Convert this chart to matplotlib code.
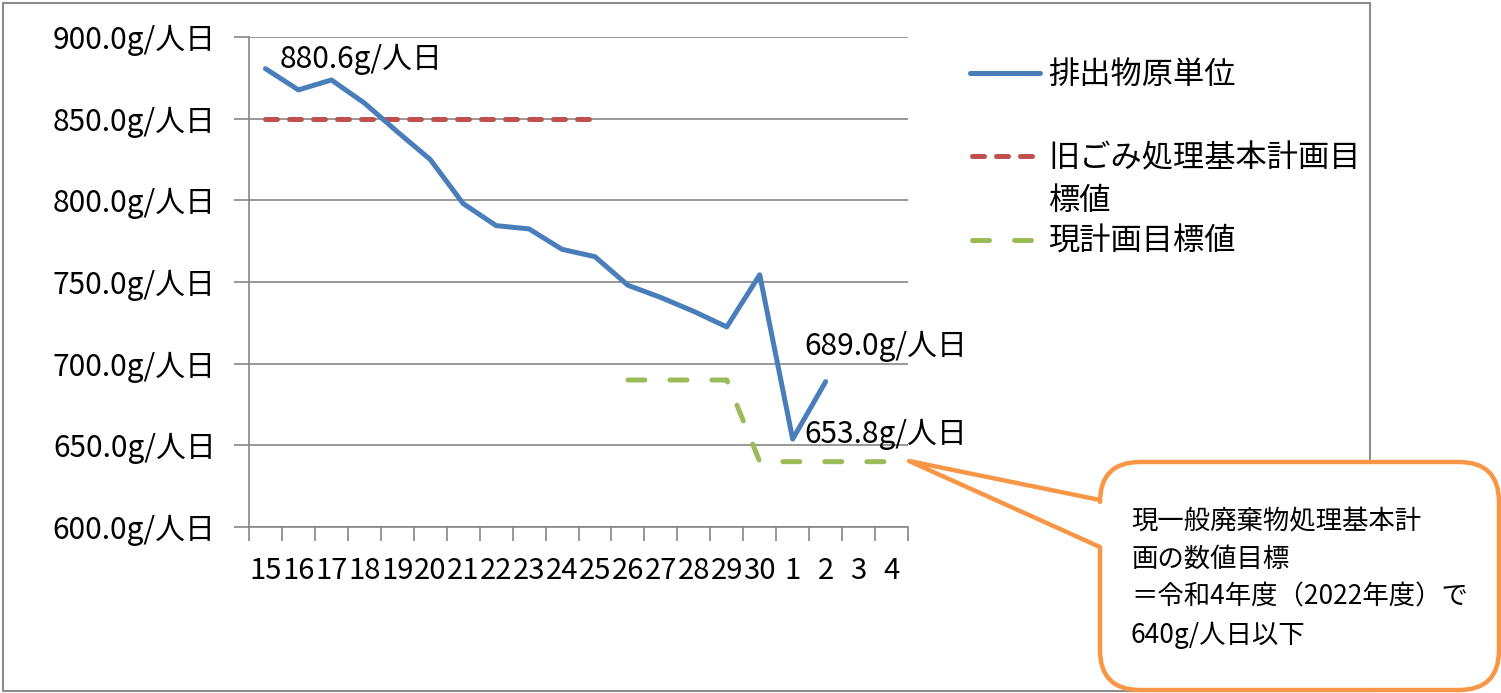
import matplotlib
matplotlib.use("Agg")
import matplotlib.pyplot as plt
from matplotlib.path import Path
from matplotlib.patches import PathPatch, Rectangle
from matplotlib.lines import Line2D

plt.rcParams['font.family'] = ['Noto Sans CJK JP', 'DejaVu Sans']

# ---- data ----
categories = ['15', '16', '17', '18', '19', '20', '21', '22', '23', '24', '25',
              '26', '27', '28', '29', '30', '1', '2', '3', '4']
actual = [880.6, 867.6, 873.7, 859.6, 842.0, 825.0, 798.0, 784.5, 782.5, 770.0,
          765.5, 748.0, 740.5, 732.0, 722.5, 754.4, 653.8, 689.0, None, None]
old_target = [850, 850, 850, 850, 850, 850, 850, 850, 850, 850, 850,
              None, None, None, None, None, None, None, None, None]
new_target = [None] * 11 + [690, 690, 690, 690, 640, 640, 640, 640, 640]
yticks = [600, 650, 700, 750, 800, 850, 900]
series_names = ['排出物原単位', '旧ごみ処理基本計画目\n標値', '現計画目標値']
callout_text = '現一般廃棄物処理基本計\n画の数値目標\n＝令和4年度（2022年度）で\n640g/人日以下'

BLUE = '#4A7EBB'
RED = '#C0504D'
GREEN = '#9BBB59'
ORANGE = '#F79646'
GRID = '#868686'

W, H = 1501, 693
fig = plt.figure(figsize=(W / 100, H / 100), dpi=100)

def fx(x):
    return x / W

def fy(y):
    return 1 - y / H

# outer chart border
fig.patches.append(Rectangle((fx(3), fy(691)), fx(1370) - fx(3), fy(3) - fy(691),
                             transform=fig.transFigure, fill=False,
                             edgecolor='#8C8C8C', linewidth=1.5, zorder=0))

ax = fig.add_axes([fx(249), fy(527), fx(908) - fx(249), fy(37) - fy(527)])
x = list(range(len(categories)))

def seg(vals):
    xs = [i for i, v in zip(x, vals) if v is not None]
    ys = [v for v in vals if v is not None]
    return xs, ys

xs, ys = seg(actual)
ax.plot(xs, ys, color=BLUE, lw=3.6, solid_capstyle='round', solid_joinstyle='round', zorder=4)
xs, ys = seg(old_target)
ax.plot(xs, ys, color=RED, lw=3.6, dashes=(2.4, 2.4), dash_capstyle='round', zorder=3)
xs, ys = seg(new_target)
ax.plot(xs, ys, color=GREEN, lw=3.6, dashes=(3.4, 5.0), dash_capstyle='round',
        dash_joinstyle='round', zorder=3)

ax.set_xlim(-0.5, len(categories) - 0.5)
ax.set_ylim(600, 900)
ax.set_yticks(yticks)
ax.set_yticklabels([f'{v:.1f}g/人日' for v in yticks])
ax.set_xticks(x)
ax.set_xticklabels(categories)
ax.set_xticks([i - 0.5 for i in range(len(categories) + 1)], minor=True)
ax.tick_params(axis='x', which='major', length=0, pad=21, labelsize=21)
ax.tick_params(axis='x', which='minor', length=10, width=1.2, color=GRID, direction='out')
ax.tick_params(axis='y', length=11, width=1.2, color=GRID, pad=13, labelsize=21.5)
ax.yaxis.grid(True, color=GRID, lw=1.2)
ax.set_axisbelow(True)
for s in ['top', 'right']:
    ax.spines[s].set_visible(False)
for s in ['left', 'bottom']:
    ax.spines[s].set_color(GRID)
    ax.spines[s].set_linewidth(1.2)

# data labels
def label(i, dx, dy):
    ax.annotate(f'{actual[i]:.1f}g/人日', (x[i], actual[i]), xytext=(dx, dy),
                textcoords='offset pixels', ha='left', va='center', fontsize=21.5, zorder=6)

label(0, 14, 9)
label(16, 12, 5)
label(17, -21, 35)

# legend (manual, to keep handle aligned with the first line of a wrapped label)
handles = [
    dict(color=BLUE, dashes=None, y=73),
    dict(color=RED, dashes=(2.4, 2.4), y=156),
    dict(color=GREEN, dashes=(3.4, 5.0), y=240),
]
for h, name in zip(handles, series_names):
    kw = dict(color=h['color'], lw=3.6, transform=fig.transFigure)
    if h['dashes']:
        ln = Line2D([fx(972), fx(1036)], [fy(h['y'])] * 2, dashes=h['dashes'],
                    dash_capstyle='round', **kw)
    else:
        ln = Line2D([fx(970), fx(1040)], [fy(h['y'])] * 2, solid_capstyle='round', **kw)
    fig.lines.append(ln)
    fig.text(fx(1048), fy(h['y'] - 14), name, ha='left', va='top', fontsize=22.5,
             linespacing=1.42)

# callout balloon
L, T, R, B, r = 1100, 462, 1499, 690, 40
tip = (909, 461)
pts = [
    ((L + r, T), Path.MOVETO),
    ((R - r, T), Path.LINETO),
    ((R, T), Path.CURVE3), ((R, T + r), Path.CURVE3),
    ((R, B - r), Path.LINETO),
    ((R, B), Path.CURVE3), ((R - r, B), Path.CURVE3),
    ((L + r, B), Path.LINETO),
    ((L, B), Path.CURVE3), ((L, B - r), Path.CURVE3),
    ((L, 547), Path.LINETO),
    (tip, Path.LINETO),
    ((L, 500), Path.LINETO),
    ((L, T + r), Path.LINETO),
    ((L, T), Path.CURVE3), ((L + r, T), Path.CURVE3),
    ((L + r, T), Path.CLOSEPOLY),
]
verts = [(fx(p[0]), fy(p[1])) for p, _ in pts]
codes = [c for _, c in pts]
fig.patches.append(PathPatch(Path(verts, codes), transform=fig.transFigure,
                             facecolor='white', edgecolor=ORANGE, lw=3.2,
                             joinstyle='round', zorder=10))
fig.text(fx(1131), fy(508), callout_text, ha='left', va='top', fontsize=19,
         linespacing=1.52, zorder=11)

fig.savefig('out.png', dpi=100)
